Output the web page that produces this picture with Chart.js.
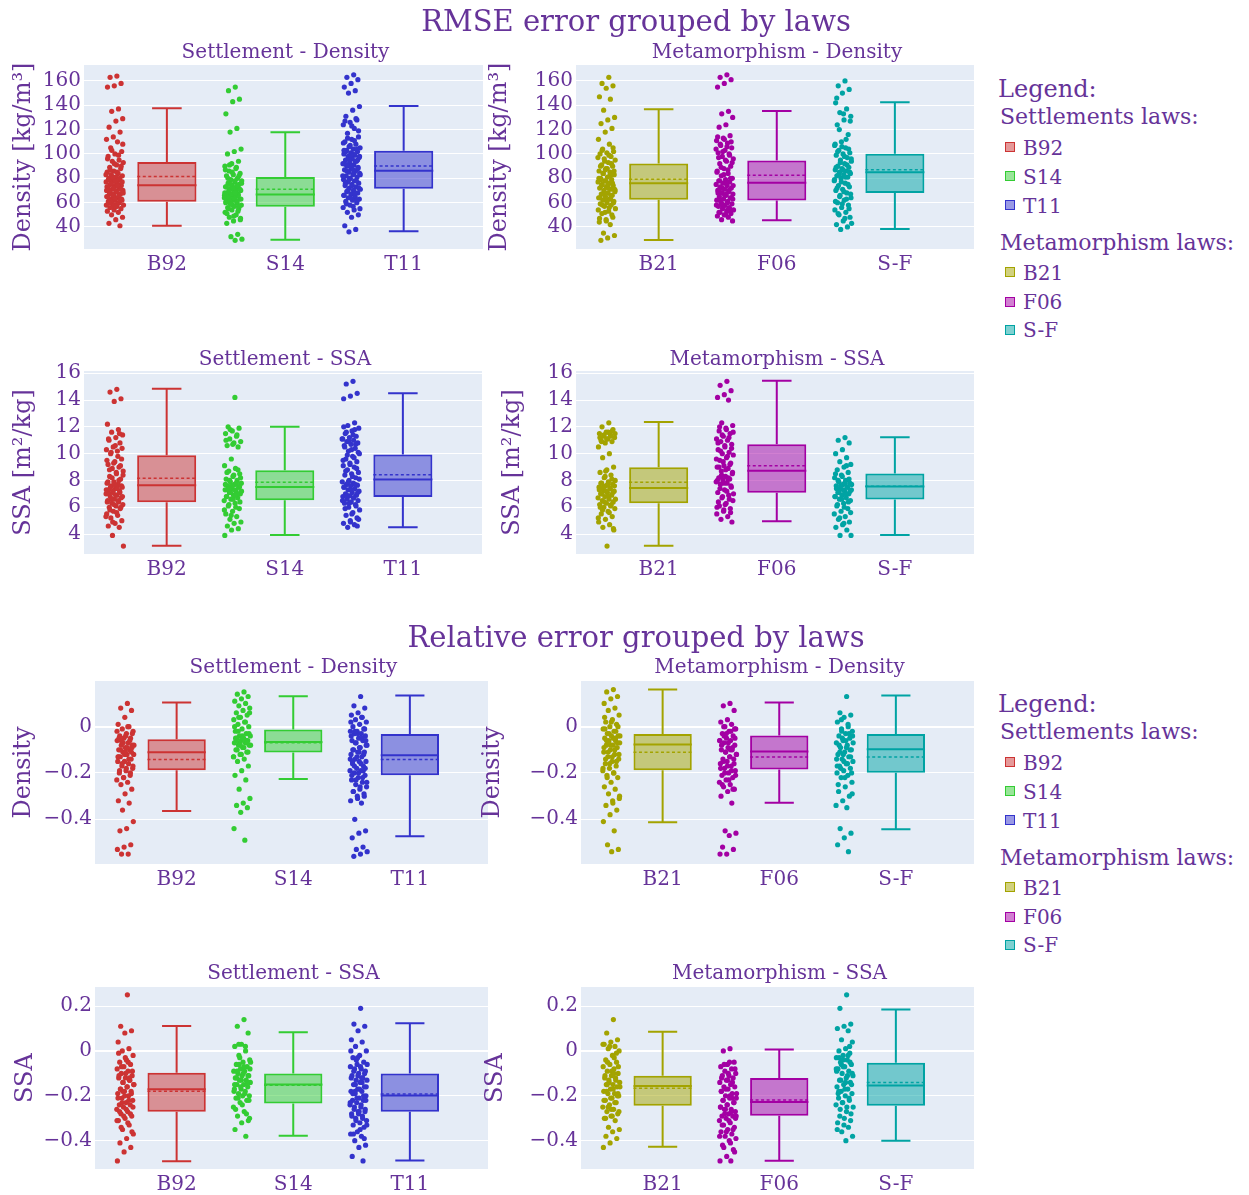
<!DOCTYPE html>
<html><head><meta charset="utf-8">
<script src="https://cdn.jsdelivr.net/npm/chart.js@4.4.1/dist/chart.umd.min.js"></script>
<style>
html,body{margin:0;padding:0;background:#fff;}
body{width:1249px;height:1195px;position:relative;overflow:hidden;font-family:'DejaVu Serif',serif;color:#663399;}
.t{position:absolute;white-space:nowrap;line-height:1.2;}
canvas{position:absolute;}
.sq{position:absolute;box-sizing:border-box;border:1.5px solid;}
</style></head><body>
<script>
// ---------------- DATA ----------------
const settleLaws = ['B92', 'S14', 'T11'];
const metaLaws = ['B21', 'F06', 'S-F'];

const densTicks = [40, 60, 80, 100, 120, 140, 160];
const ssaTicks = [4, 6, 8, 10, 12, 14, 16];
const relDensTicks = [-0.4, -0.2, 0];
const relSsaTicks = [-0.4, -0.2, 0, 0.2];

// box statistics per law: [lower fence, q1, median, q3, upper fence, mean]
const rmseDensSettleBox = [[41.1, 60.8, 74.2, 93.4, 137.5, 81.4], [29.6, 56.7, 66.6, 81.1, 117.8, 71.0], [36.4, 71.5, 86.3, 102.7, 139.5, 90.1]];
const rmseDensMetaBox = [[29.3, 62.3, 76.0, 92.2, 136.7, 79.3], [45.5, 61.7, 76.3, 94.7, 135.3, 82.6], [38.4, 68.0, 85.0, 100.1, 142.4, 87.0]];
const rmseSsaSettleBox = [[3.13, 6.37, 7.64, 9.88, 14.85, 8.16], [3.93, 6.52, 7.51, 8.76, 12.0, 7.86], [4.5, 6.76, 8.08, 9.93, 14.51, 8.43]];
const rmseSsaMetaBox = [[3.13, 6.29, 7.44, 8.98, 12.37, 7.86], [4.95, 7.09, 8.73, 10.7, 15.45, 9.1], [3.93, 6.57, 7.54, 8.51, 11.22, 7.56]];
const relDensSettleBox = [[-0.364, -0.188, -0.111, -0.055, 0.104, -0.142], [-0.226, -0.112, -0.066, -0.012, 0.131, -0.070], [-0.473, -0.210, -0.124, -0.032, 0.134, -0.142]];
const relDensMetaBox = [[-0.413, -0.188, -0.077, -0.032, 0.160, -0.111], [-0.329, -0.185, -0.107, -0.038, 0.104, -0.131], [-0.443, -0.199, -0.098, -0.032, 0.134, -0.131]];
const relSsaSettleBox = [[-0.491, -0.271, -0.171, -0.097, 0.111, -0.179], [-0.378, -0.234, -0.150, -0.100, 0.083, -0.153], [-0.488, -0.271, -0.198, -0.100, 0.123, -0.192]];
const relSsaMetaBox = [[-0.427, -0.244, -0.156, -0.110, 0.086, -0.166], [-0.489, -0.289, -0.227, -0.120, 0.006, -0.218], [-0.400, -0.244, -0.154, -0.052, 0.185, -0.141]];

// individual errors (RMSE density, kg/m3)
const rmseDensB92 = [164,163,158,156,155,137,135,129,127,122,118,114,112,110,105,102,100,98,95,94,93,91,89,88,86,85,84,83,82,81,80,79,78,77,76,75,74,74,73,72,71,70,69,68,67,66,65,64,63,62,62,61,60,59,58,57,56,55,54,53,52,50,48,46,43,41,
  56,58,59,61,63,64,65,66,67,68,69,70,71,72,73,75,76,77,78,79,80,81,83,85,87,90,92,96,99,103,108,57,60,62,66,70,74];
const rmseDensS14 = [155,152,145,143,133,121,118,104,102,100,94,92,90,88,86,84,83,82,80,79,78,77,76,75,74,73,72,71,70,69,68,67,66,66,65,64,63,62,61,60,59,58,57,56,55,54,52,50,48,46,45,43,34,32,30,29,
  55,57,58,60,61,62,63,64,65,66,67,68,69,70,71,72,73,74,75,76,78,80,82,85,87,89,91,47,49,51,53,59,64,68];
const rmseDensT11 = [165,163,161,158,155,152,150,139,136,131,128,126,124,121,117,114,112,110,108,106,105,104,103,102,101,100,99,98,97,96,95,94,93,92,91,90,89,88,87,86,85,84,83,82,81,80,79,78,77,76,75,74,73,72,71,70,69,68,67,66,65,64,63,62,61,60,58,56,54,52,50,48,41,38,36,
  55,57,59,62,64,66,68,70,72,74,76,78,80,82,84,86,88,90,92,94,96,98,100,102,104,107,109,111,113,119,123,127,129,79,83,87,91,95,99,103];
const rmseDensB21 = [163,158,156,154,147,145,136,130,128,125,121,118,112,108,104,102,101,100,98,96,95,93,91,90,88,86,85,84,83,81,80,79,78,77,76,75,74,73,72,71,70,69,68,67,66,65,64,63,62,61,60,59,58,57,55,53,51,48,46,44,42,35,33,31,29,
  50,52,54,56,58,60,62,64,66,68,70,72,74,76,78,80,82,84,86,88,90,92,94,97,99,103,105,45,47,63,67,71,75,79,83,87];
const rmseDensF06 = [165,163,161,158,155,135,133,130,124,122,115,113,111,109,107,105,103,101,100,98,96,94,92,90,88,86,84,82,80,79,78,77,76,75,74,73,72,71,70,69,68,67,66,65,64,63,62,61,60,59,58,57,56,55,54,53,52,51,50,49,48,46,45,
  50,52,54,56,58,60,62,64,66,68,70,72,74,76,78,80,83,85,87,89,93,95,97,99,102,104,106,108,110,112,114,55,59,63,67,71];
const rmseDensSF = [160,156,153,150,142,137,134,131,128,124,116,110,107,105,103,101,100,99,97,95,94,92,90,89,88,87,86,85,84,83,82,81,80,78,76,74,73,71,70,68,66,64,62,60,58,56,54,52,50,48,45,42,40,38,
  43,47,51,55,59,61,63,65,67,69,72,75,77,79,81,83,85,87,89,91,93,96,98,102,104,106,108,112,120,127,133,146];

// individual errors (RMSE SSA, m2/kg)
const rmseSsaB92 = [14.8,14.6,14.1,13.9,12.2,11.8,11.6,11.4,11.2,11.0,10.8,10.5,10.3,10.2,10.0,9.6,9.4,9.2,9.0,8.9,8.7,8.5,8.3,8.1,7.9,7.8,7.7,7.6,7.5,7.4,7.3,7.2,7.1,7.0,6.9,6.8,6.7,6.6,6.5,6.4,6.3,6.2,6.1,6.0,5.9,5.7,5.5,5.4,5.2,5.0,4.8,4.6,4.5,3.9,3.1,
  5.6,5.8,6.0,6.2,6.4,6.5,6.6,6.8,6.9,7.0,7.1,7.2,7.3,7.4,7.5,7.6,7.7,7.9,8.0,8.2,8.4,8.6,8.8,9.1,9.3,9.5,9.8,10.1,10.4,10.6,11.1,11.5,4.9,5.3];
const rmseSsaS14 = [14.2,12.0,11.9,11.7,11.5,11.3,11.1,10.9,10.8,10.6,10.5,9.6,9.1,8.9,8.7,8.5,8.3,8.1,8.0,7.9,7.8,7.7,7.6,7.5,7.4,7.3,7.2,7.1,7.0,6.9,6.8,6.7,6.6,6.5,6.3,6.1,5.9,5.7,5.5,5.3,5.1,4.9,4.8,4.6,4.4,4.3,3.9,
  6.0,6.2,6.4,6.6,6.8,7.0,7.1,7.2,7.3,7.4,7.5,7.6,7.7,7.8,8.0,8.2,8.4,8.6,8.8,5.4,5.8,6.9,7.35,7.55,10.7,11.0,11.4,11.8];
const rmseSsaT11 = [15.4,15.2,14.5,14.3,14.1,12.3,12.1,11.9,11.7,11.5,11.3,11.2,11.1,11.0,10.9,10.8,10.7,10.6,10.4,10.2,10.0,9.8,9.6,9.4,9.2,9.1,9.0,8.8,8.6,8.5,8.4,8.2,8.0,7.9,7.8,7.7,7.65,7.6,7.5,7.4,7.3,7.2,7.1,7.0,6.9,6.85,6.8,6.7,6.6,6.5,6.4,6.3,6.2,6.0,5.8,5.6,5.4,5.2,5.0,4.8,4.7,4.5,
  5.1,5.5,5.9,6.1,6.3,6.5,6.7,6.9,7.1,7.3,7.5,7.7,7.9,8.1,8.3,8.7,8.9,9.3,9.5,9.7,9.9,10.1,10.3,10.5,10.7,10.9,11.1,11.4,11.6,4.6,4.9,12.0,11.8];
const rmseSsaB21 = [12.3,12.0,11.8,11.6,11.5,11.4,11.3,11.2,11.1,11.0,10.9,10.8,10.5,10.0,9.7,9.0,8.8,8.6,8.4,8.2,8.0,7.9,7.8,7.7,7.6,7.5,7.4,7.3,7.2,7.1,7.0,6.9,6.8,6.7,6.6,6.5,6.4,6.3,6.2,6.1,6.0,5.9,5.7,5.5,5.3,5.1,4.9,4.7,4.5,4.3,3.1,
  6.0,6.2,6.4,6.6,6.8,7.0,7.1,7.2,7.3,7.4,7.5,7.6,7.7,7.8,8.1,8.3,5.2,5.6,5.8,4.4,11.1,11.2,11.3,11.4,11.5,11.6,10.9,11.7,8.7];
const rmseSsaF06 = [15.4,15.1,14.7,14.4,14.2,14.0,12.3,12.1,11.9,11.7,11.5,11.3,11.1,11.0,10.9,10.7,10.5,10.3,10.1,10.0,9.9,9.7,9.5,9.3,9.1,9.0,8.9,8.7,8.5,8.3,8.2,8.1,8.0,7.9,7.8,7.7,7.5,7.3,7.1,6.9,6.7,6.5,6.3,6.1,5.9,5.7,5.5,5.3,5.1,4.9,
  6.2,6.4,6.6,6.8,7.0,7.2,7.4,7.6,7.8,8.0,8.2,8.4,8.6,8.8,9.0,9.2,9.4,9.6,9.8,10.2,10.4,10.6,10.8,11.2,11.4,11.6,11.8,12.0,5.6,5.8,6.0,8.1,8.3];
const rmseSsaSF = [11.2,11.0,10.8,10.3,10.0,9.7,9.4,9.2,9.0,8.8,8.6,8.4,8.2,8.0,7.9,7.8,7.7,7.6,7.5,7.4,7.3,7.2,7.1,7.0,6.9,6.8,6.7,6.6,6.5,6.3,6.1,5.9,5.7,5.5,5.3,5.1,4.9,4.7,4.5,4.3,3.9,3.9,
  6.0,6.2,6.4,6.6,6.8,7.0,7.1,7.2,7.3,7.4,7.5,7.6,7.7,7.8,8.0,8.1,8.3,8.5,9.1,5.2,5.6,4.8];

// individual relative errors (density)
const relDensB92 = [0.10,0.08,0.07,0.04,0.01,0.0,-0.01,-0.02,-0.03,-0.04,-0.05,-0.05,-0.06,-0.07,-0.08,-0.08,-0.09,-0.10,-0.10,-0.11,-0.12,-0.12,-0.13,-0.14,-0.15,-0.15,-0.16,-0.17,-0.18,-0.19,-0.20,-0.21,-0.22,-0.23,-0.24,-0.25,-0.27,-0.29,-0.32,-0.33,-0.36,-0.41,-0.44,-0.45,-0.51,-0.52,-0.53,-0.55,-0.55,
  -0.03,-0.04,-0.05,-0.06,-0.07,-0.08,-0.09,-0.10,-0.11,-0.12,-0.13,-0.14,-0.16,-0.17,-0.18,-0.19,-0.20,-0.22,-0.02,0.0,-0.06,-0.09,-0.11,-0.13];
const relDensS14 = [0.15,0.14,0.13,0.12,0.11,0.10,0.09,0.08,0.07,0.06,0.05,0.04,0.03,0.02,0.01,0.0,-0.01,-0.02,-0.03,-0.04,-0.04,-0.05,-0.05,-0.06,-0.06,-0.07,-0.07,-0.08,-0.08,-0.09,-0.10,-0.11,-0.12,-0.13,-0.14,-0.15,-0.17,-0.19,-0.21,-0.23,-0.27,-0.31,-0.33,-0.34,-0.35,-0.37,-0.44,-0.49,
  -0.02,-0.03,-0.04,-0.05,-0.06,-0.07,-0.08,-0.09,-0.10,-0.11,-0.12,0.0,0.02,0.04,0.06,-0.05,-0.06,-0.07,-0.08,-0.13];
const relDensT11 = [0.13,0.09,0.08,0.06,0.05,0.04,0.03,0.02,0.01,0.0,-0.01,-0.02,-0.02,-0.03,-0.03,-0.04,-0.05,-0.06,-0.06,-0.07,-0.08,-0.09,-0.10,-0.11,-0.11,-0.12,-0.13,-0.14,-0.15,-0.15,-0.16,-0.17,-0.18,-0.19,-0.19,-0.20,-0.21,-0.22,-0.23,-0.24,-0.25,-0.26,-0.27,-0.28,-0.29,-0.30,-0.32,-0.33,-0.40,-0.45,-0.46,-0.48,-0.52,-0.53,-0.54,-0.55,-0.56,
  -0.01,-0.03,-0.04,-0.05,-0.07,-0.08,-0.09,-0.10,-0.12,-0.13,-0.14,-0.16,-0.17,-0.18,-0.20,-0.21,-0.22,-0.23,-0.24,-0.26,-0.28,-0.30,-0.31,0.02,0.04,-0.02,-0.06,-0.11,-0.15,-0.19];
const relDensB21 = [0.16,0.15,0.13,0.12,0.10,0.08,0.07,0.05,0.03,0.02,0.01,0.0,-0.01,-0.02,-0.03,-0.04,-0.04,-0.05,-0.06,-0.06,-0.07,-0.08,-0.08,-0.09,-0.10,-0.11,-0.12,-0.13,-0.14,-0.15,-0.16,-0.17,-0.18,-0.19,-0.20,-0.21,-0.22,-0.24,-0.26,-0.27,-0.29,-0.31,-0.32,-0.34,-0.36,-0.38,-0.41,-0.45,-0.51,-0.53,-0.54,
  -0.01,-0.02,-0.03,-0.04,-0.05,-0.06,-0.07,-0.08,-0.09,-0.10,-0.11,-0.12,-0.13,-0.14,-0.15,-0.16,-0.18,-0.20,-0.22,0.0,0.02,0.04,-0.05,-0.07,-0.30,-0.33];
const relDensF06 = [0.10,0.09,0.07,0.03,0.02,0.01,0.0,-0.01,-0.02,-0.03,-0.04,-0.05,-0.06,-0.06,-0.07,-0.08,-0.09,-0.10,-0.10,-0.11,-0.12,-0.13,-0.14,-0.14,-0.15,-0.16,-0.17,-0.18,-0.19,-0.20,-0.21,-0.22,-0.23,-0.24,-0.25,-0.26,-0.27,-0.28,-0.30,-0.33,-0.45,-0.46,-0.47,-0.52,-0.53,-0.55,-0.55,
  -0.02,-0.04,-0.05,-0.07,-0.08,-0.09,-0.11,-0.12,-0.13,-0.15,-0.16,-0.17,-0.18,-0.19,-0.20,-0.21,-0.23,-0.25,-0.27,-0.03,-0.06,-0.10,0.0,-0.01];
const relDensSF = [0.13,0.06,0.05,0.04,0.02,0.0,-0.01,-0.02,-0.03,-0.04,-0.05,-0.06,-0.07,-0.08,-0.09,-0.10,-0.11,-0.12,-0.13,-0.14,-0.15,-0.16,-0.17,-0.18,-0.19,-0.20,-0.21,-0.22,-0.24,-0.26,-0.28,-0.30,-0.32,-0.34,-0.35,-0.44,-0.46,-0.48,-0.51,-0.54,
  -0.02,-0.04,-0.06,-0.08,-0.10,-0.12,-0.14,-0.16,-0.18,-0.20,-0.22,-0.25,-0.03,-0.05,-0.07,-0.09,-0.11,-0.13,-0.15,-0.17,0.01,0.03,-0.29];

// individual relative errors (SSA)
const relSsaB92 = [0.25,0.11,0.09,0.08,0.04,0.01,0.0,-0.02,-0.04,-0.05,-0.06,-0.07,-0.08,-0.09,-0.10,-0.11,-0.12,-0.12,-0.13,-0.14,-0.15,-0.16,-0.17,-0.18,-0.18,-0.19,-0.20,-0.21,-0.22,-0.23,-0.24,-0.24,-0.25,-0.26,-0.27,-0.28,-0.29,-0.30,-0.31,-0.33,-0.35,-0.37,-0.39,-0.41,-0.43,-0.45,-0.49,
  -0.05,-0.07,-0.09,-0.10,-0.11,-0.13,-0.14,-0.15,-0.16,-0.17,-0.19,-0.20,-0.21,-0.22,-0.23,-0.25,-0.26,-0.27,-0.28,-0.29,-0.31,-0.32,-0.34,-0.36,-0.03,-0.01,-0.12,-0.18];
const relSsaS14 = [0.14,0.11,0.08,0.03,0.02,0.0,-0.02,-0.04,-0.05,-0.06,-0.07,-0.08,-0.09,-0.09,-0.10,-0.11,-0.11,-0.12,-0.13,-0.13,-0.14,-0.15,-0.15,-0.16,-0.17,-0.17,-0.18,-0.19,-0.20,-0.20,-0.21,-0.22,-0.23,-0.25,-0.27,-0.29,-0.31,-0.32,-0.35,-0.38,
  -0.06,-0.08,-0.10,-0.12,-0.14,-0.16,-0.18,-0.19,-0.21,-0.22,-0.24,-0.26,-0.28,-0.03,-0.05,-0.07,-0.09,-0.11,-0.13,-0.15,0.02,0.03,-0.30];
const relSsaT11 = [0.19,0.12,0.11,0.09,0.05,0.04,0.02,0.0,-0.02,-0.03,-0.05,-0.06,-0.07,-0.08,-0.08,-0.09,-0.10,-0.11,-0.12,-0.13,-0.13,-0.14,-0.15,-0.16,-0.17,-0.18,-0.18,-0.19,-0.20,-0.21,-0.22,-0.22,-0.23,-0.24,-0.25,-0.26,-0.27,-0.27,-0.28,-0.29,-0.30,-0.31,-0.32,-0.33,-0.34,-0.36,-0.37,-0.38,-0.40,-0.42,-0.43,-0.47,-0.49,
  -0.04,-0.06,-0.07,-0.09,-0.10,-0.11,-0.12,-0.14,-0.15,-0.16,-0.17,-0.19,-0.20,-0.21,-0.23,-0.24,-0.25,-0.26,-0.28,-0.29,-0.30,-0.31,-0.33,-0.35,-0.37,-0.39,-0.03,0.0,-0.12,-0.18,-0.22,-0.27];
const relSsaB21 = [0.14,0.08,0.05,0.04,0.03,0.02,0.01,0.0,-0.02,-0.04,-0.05,-0.06,-0.07,-0.08,-0.09,-0.10,-0.11,-0.12,-0.12,-0.13,-0.14,-0.15,-0.15,-0.16,-0.17,-0.18,-0.19,-0.19,-0.20,-0.21,-0.22,-0.23,-0.24,-0.25,-0.26,-0.27,-0.28,-0.29,-0.30,-0.31,-0.34,-0.35,-0.36,-0.38,-0.39,-0.41,-0.43,
  -0.03,-0.05,-0.07,-0.09,-0.11,-0.13,-0.14,-0.16,-0.17,-0.18,-0.20,-0.21,-0.22,-0.23,-0.25,-0.27,-0.29,-0.30,-0.01,0.02,0.03,-0.10,-0.15,-0.19,-0.26];
const relSsaF06 = [0.01,0.0,-0.05,-0.06,-0.07,-0.08,-0.09,-0.10,-0.11,-0.11,-0.12,-0.13,-0.14,-0.15,-0.16,-0.16,-0.17,-0.18,-0.19,-0.20,-0.21,-0.21,-0.22,-0.23,-0.24,-0.25,-0.26,-0.26,-0.27,-0.28,-0.29,-0.29,-0.30,-0.31,-0.32,-0.33,-0.34,-0.35,-0.36,-0.37,-0.38,-0.39,-0.40,-0.42,-0.44,-0.47,-0.49,-0.49,
  -0.06,-0.08,-0.10,-0.12,-0.14,-0.17,-0.19,-0.20,-0.22,-0.23,-0.24,-0.25,-0.27,-0.28,-0.30,-0.31,-0.33,-0.35,-0.36,-0.38,-0.41,-0.43,-0.45,-0.13,-0.18,-0.21,-0.26,-0.29,-0.05];
const relSsaSF = [0.25,0.19,0.12,0.11,0.10,0.09,0.05,0.04,0.01,0.0,-0.01,-0.02,-0.03,-0.04,-0.05,-0.06,-0.07,-0.08,-0.09,-0.10,-0.11,-0.12,-0.13,-0.14,-0.15,-0.16,-0.17,-0.18,-0.19,-0.20,-0.21,-0.22,-0.23,-0.24,-0.25,-0.26,-0.28,-0.30,-0.32,-0.34,-0.36,-0.38,-0.40,
  -0.03,-0.05,-0.07,-0.09,-0.11,-0.13,-0.15,-0.17,-0.19,-0.21,-0.23,-0.25,-0.27,-0.29,-0.31,-0.33,-0.35,-0.02,-0.06,-0.10,-0.14,-0.18,0.02,-0.04,-0.08];

// ---------------- STYLE / LAYOUT ----------------
const FONT = "'DejaVu Serif', serif";
const PURPLE = '#663399';
const settleColors = ['#cc3333', '#33cc33', '#3333cc'];
const metaColors = ['#a3a300', '#a300a3', '#00a3a3'];
function alpha(hex, a) {
  const n = parseInt(hex.slice(1), 16);
  return `rgba(${(n >> 16) & 255},${(n >> 8) & 255},${n & 255},${a})`;
}

const panels = [
  { laws: settleLaws, colors: settleColors, box: rmseDensSettleBox, pts: [rmseDensB92, rmseDensS14, rmseDensT11], ticks: densTicks, yMin: 21.9, yMax: 173.1, yTitle: 'Density [kg/m³]', title: 'Settlement - Density', plot: [84, 65, 487, 249], cl: 0, tm: 24 },
  { laws: metaLaws, colors: metaColors, box: rmseDensMetaBox, pts: [rmseDensB21, rmseDensF06, rmseDensSF], ticks: densTicks, yMin: 21.9, yMax: 173.1, yTitle: 'Density [kg/m³]', title: 'Metamorphism - Density', plot: [576, 65, 978, 249], cl: 480, tm: 500 },
  { laws: settleLaws, colors: settleColors, box: rmseSsaSettleBox, pts: [rmseSsaB92, rmseSsaS14, rmseSsaT11], ticks: ssaTicks, yMin: 2.51, yMax: 16.17, yTitle: 'SSA [m²/kg]', title: 'Settlement - SSA', plot: [84, 371, 486, 554], cl: 0, tm: 24 },
  { laws: metaLaws, colors: metaColors, box: rmseSsaMetaBox, pts: [rmseSsaB21, rmseSsaF06, rmseSsaSF], ticks: ssaTicks, yMin: 2.51, yMax: 16.17, yTitle: 'SSA [m²/kg]', title: 'Metamorphism - SSA', plot: [576, 371, 978, 554], cl: 480, tm: 513 },
  { laws: settleLaws, colors: settleColors, box: relDensSettleBox, pts: [relDensB92, relDensS14, relDensT11], ticks: relDensTicks, yMin: -0.593, yMax: 0.197, yTitle: 'Density', title: 'Settlement - Density', plot: [95, 681, 492, 864], cl: 0, tm: 24 },
  { laws: metaLaws, colors: metaColors, box: relDensMetaBox, pts: [relDensB21, relDensF06, relDensSF], ticks: relDensTicks, yMin: -0.593, yMax: 0.197, yTitle: 'Density', title: 'Metamorphism - Density', plot: [581, 681, 978, 864], cl: 470, tm: 493 },
  { laws: settleLaws, colors: settleColors, box: relSsaSettleBox, pts: [relSsaB92, relSsaS14, relSsaT11], ticks: relSsaTicks, yMin: -0.526, yMax: 0.285, yTitle: 'SSA', title: 'Settlement - SSA', plot: [95, 987, 492, 1169], cl: 0, tm: 26 },
  { laws: metaLaws, colors: metaColors, box: relSsaMetaBox, pts: [relSsaB21, relSsaF06, relSsaSF], ticks: relSsaTicks, yMin: -0.526, yMax: 0.285, yTitle: 'SSA', title: 'Metamorphism - SSA', plot: [581, 987, 978, 1169], cl: 470, tm: 496 },
];
const titleBaselines = [58.3, 58.3, 365, 365, 673.3, 673.3, 979.3, 979.3];

function addText(txt, x, baseline, size, center) {
  const d = document.createElement('div');
  d.className = 't';
  d.textContent = txt;
  d.style.fontSize = size + 'px';
  d.style.top = (baseline - 0.946 * size) + 'px';
  if (center) { d.style.left = (x - 400) + 'px'; d.style.width = '800px'; d.style.textAlign = 'center'; }
  else d.style.left = x + 'px';
  document.body.appendChild(d);
}

const bgPlugin = {
  id: 'plotbg',
  beforeDraw(chart) {
    const { ctx, chartArea: a } = chart;
    ctx.save();
    ctx.fillStyle = '#e5ecf6';
    ctx.fillRect(a.left, a.top, a.right - a.left, a.bottom - a.top);
    ctx.restore();
  }
};

function fmt(v) {
  if (Math.abs(v) < 1e-9) return '0';
  const s = String(Math.round(Math.abs(v) * 1000) / 1000);
  return (v < 0 ? '\u2212' : '') + s;
}

const PHI = 0.6180339887;
const PT_OFF = -0.44, PT_JIT = 0.075, BOX_HALF = 0.25, CAP_HALF = 0.125;

function makePanel(P, idx) {
  const [pl, pt, pr, pb] = P.plot;
  const T = 20, HX = 34;
  const Wy = pl - P.cl;
  const cw = pr - P.cl, ch = (pb - pt) + T + HX;
  const cv = document.createElement('canvas');
  cv.width = cw; cv.height = ch;
  cv.style.left = P.cl + 'px'; cv.style.top = (pt - T) + 'px';
  cv.style.width = cw + 'px'; cv.style.height = ch + 'px';
  document.body.appendChild(cv);

  const datasets = [];
  // boxes (floating bars q1..q3)
  datasets.push({
    type: 'bar',
    data: P.box.map((b, g) => ({ x: g, y: [b[1], b[3]] })),
    backgroundColor: P.colors.map(c => alpha(c, 0.5)),
    borderColor: P.colors,
    borderWidth: 2,
    borderSkipped: false,
    barPercentage: 2 * BOX_HALF,
    categoryPercentage: 1,
    order: 2
  });
  P.box.forEach((b, g) => {
    const col = P.colors[g];
    const line = { type: 'scatter', showLine: true, spanGaps: false, pointRadius: 0, borderColor: col, fill: false };
    datasets.push(Object.assign({}, line, {
      data: [
        { x: g, y: b[3] }, { x: g, y: b[4] }, { x: g, y: null },
        { x: g - CAP_HALF, y: b[4] }, { x: g + CAP_HALF, y: b[4] }, { x: g, y: null },
        { x: g, y: b[1] }, { x: g, y: b[0] }, { x: g, y: null },
        { x: g - CAP_HALF, y: b[0] }, { x: g + CAP_HALF, y: b[0] }
      ],
      borderWidth: 2, order: 1
    }));
    datasets.push(Object.assign({}, line, {
      data: [{ x: g - BOX_HALF, y: b[2] }, { x: g + BOX_HALF, y: b[2] }],
      borderWidth: 2, order: 0
    }));
    datasets.push(Object.assign({}, line, {
      data: [{ x: g - BOX_HALF, y: b[5] }, { x: g + BOX_HALF, y: b[5] }],
      borderWidth: 1.5, borderDash: [3, 2.5], order: 0
    }));
    datasets.push({
      type: 'scatter',
      data: P.pts[g].map((v, k) => {
        const f = ((k + 1) * PHI) % 1;
        return { x: g + PT_OFF + PT_JIT * (2 * f - 1), y: v };
      }),
      showLine: false,
      pointRadius: 2.6,
      pointBorderWidth: 0,
      pointBackgroundColor: col,
      order: 3
    });
  });

  new Chart(cv, {
    type: 'scatter',
    data: { datasets },
    plugins: [bgPlugin],
    options: {
      responsive: false,
      animation: false,
      devicePixelRatio: 1,
      events: [],
      layout: { padding: { top: T, left: 0, right: 0, bottom: 0 } },
      plugins: { legend: { display: false }, tooltip: { enabled: false }, title: { display: false } },
      scales: {
        x: {
          type: 'linear', min: -0.7, max: 2.67, bounds: 'data', offset: false,
          afterBuildTicks: s => { s.ticks = P.laws.map((_, i) => ({ value: i })); },
          afterFit: s => { s.height = HX; },
          grid: { display: false, drawTicks: false, offset: false },
          border: { display: false },
          ticks: {
            autoSkip: false, maxRotation: 0, padding: 4, color: PURPLE,
            font: { family: FONT, size: 20 },
            callback: v => P.laws[Math.round(v)]
          }
        },
        y: {
          type: 'linear', min: P.yMin, max: P.yMax, bounds: 'data',
          afterBuildTicks: s => { s.ticks = P.ticks.map(v => ({ value: v })); },
          afterFit: s => { s.width = Wy; },
          grid: { color: '#ffffff', drawTicks: false, lineWidth: c => (c.tick && Math.abs(c.tick.value) < 1e-9 ? 2 : 1) },
          border: { display: false },
          ticks: { padding: 3, color: PURPLE, font: { family: FONT, size: 20 }, callback: v => fmt(v) },
          title: { display: true, text: P.yTitle, color: PURPLE, font: { family: FONT, size: 24 }, padding: { top: P.tm - P.cl - 14.4, bottom: 0 } }
        }
      }
    }
  });
  addText(P.title, (pl + pr) / 2, titleBaselines[idx], 20, true);
}

panels.forEach(makePanel);

// main titles
addText('RMSE error grouped by laws', 636, 31.7, 29, true);
addText('Relative error grouped by laws', 636, 647.3, 29, true);

// legends
function addLegend(dy) {
  addText('Legend:', 998, 97.3 + dy, 24, false);
  addText('Settlements laws:', 1000, 125 + dy, 22, false);
  const sB = [155, 184, 212.7];
  settleLaws.forEach((l, i) => addItem(l, settleColors[i], sB[i] + dy));
  addText('Metamorphism laws:', 1000, 250.7 + dy, 22, false);
  const mB = [280, 309.3, 337.3];
  metaLaws.forEach((l, i) => addItem(l, metaColors[i], mB[i] + dy));
}
function addItem(label, col, baseline) {
  const s = document.createElement('div');
  s.className = 'sq';
  s.style.left = '1005px'; s.style.top = (baseline - 12.8) + 'px';
  s.style.width = '10px'; s.style.height = '10px';
  s.style.background = alpha(col, 0.5); s.style.borderColor = col;
  document.body.appendChild(s);
  addText(label, 1023, baseline, 20, false);
}
addLegend(0);
addLegend(615);
</script>
</body></html>
